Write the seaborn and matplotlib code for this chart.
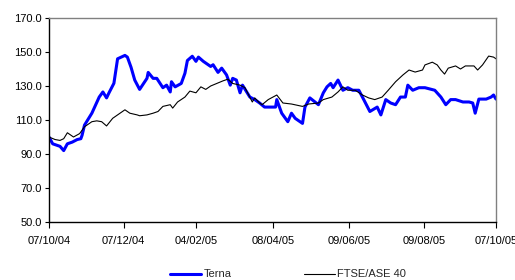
import numpy as np
import matplotlib
matplotlib.use("Agg")
import matplotlib.pyplot as plt
import matplotlib.dates as mdates
import pandas as pd
import seaborn as sns

# Terna share price, rebased to 100 on 07/10/04
terna_dates = ['2004-10-07', '2004-10-10', '2004-10-14', '2004-10-16', '2004-10-19',
               '2004-10-22', '2004-10-26', '2004-10-30', '2004-11-02', '2004-11-03',
               '2004-11-05', '2004-11-11', '2004-11-17', '2004-11-20', '2004-11-23',
               '2004-11-25', '2004-11-29', '2004-12-02', '2004-12-08', '2004-12-10',
               '2004-12-13', '2004-12-16', '2004-12-20', '2004-12-26', '2004-12-27',
               '2004-12-31', '2005-01-03', '2005-01-08', '2005-01-11', '2005-01-14',
               '2005-01-15', '2005-01-18', '2005-01-23', '2005-01-26', '2005-01-28',
               '2005-02-01', '2005-02-04', '2005-02-06', '2005-02-10', '2005-02-16',
               '2005-02-18', '2005-02-22', '2005-02-25', '2005-03-01', '2005-03-04',
               '2005-03-06', '2005-03-09', '2005-03-12', '2005-03-14', '2005-03-20',
               '2005-03-24', '2005-03-28', '2005-04-01', '2005-04-10', '2005-04-11',
               '2005-04-15', '2005-04-20', '2005-04-23', '2005-04-26', '2005-05-02',
               '2005-05-04', '2005-05-08', '2005-05-15', '2005-05-19', '2005-05-22',
               '2005-05-25', '2005-05-27', '2005-05-31', '2005-06-04', '2005-06-08',
               '2005-06-12', '2005-06-17', '2005-06-21', '2005-06-26', '2005-07-02',
               '2005-07-05', '2005-07-09', '2005-07-13', '2005-07-17', '2005-07-21',
               '2005-07-25', '2005-07-27', '2005-07-31', '2005-08-05', '2005-08-10',
               '2005-08-18', '2005-08-23', '2005-08-27', '2005-08-31', '2005-09-04',
               '2005-09-10', '2005-09-15', '2005-09-18', '2005-09-20', '2005-09-23',
               '2005-09-29', '2005-10-03', '2005-10-05', '2005-10-07']
terna_values = [100, 96, 95, 94.5, 92,
                96, 97, 98.5, 99, 101,
                107, 114, 123.5, 126.5, 123,
                126, 131.6, 146, 148, 147,
                141, 133.5, 128, 134.5, 138,
                134.5, 134.5, 129, 130.5, 126.5,
                132.5, 129.5, 131.5, 137.5, 145,
                147.5, 144.5, 147, 144.5, 141.5,
                142.5, 138, 140.5, 136.5, 130.5,
                134.5, 133.5, 126, 130.5, 123.5,
                122, 120, 117.6, 117.6, 122,
                114, 109, 114, 111, 108,
                117.6, 123, 119, 126, 129.5,
                131.5, 129, 133.5, 127.5, 129,
                127.5, 127.5, 122, 115, 117.6,
                113, 122, 120, 119, 123.5,
                123.5, 130.5, 127.5, 129, 129,
                127.5, 123.5, 119, 122, 122,
                120.6, 120.6, 120, 114, 122.3,
                122.3, 123.5, 124.7, 122.3]

# FTSE/ASE 40 index, rebased to 100 on 07/10/04
ftse_dates = ['2004-10-07', '2004-10-12', '2004-10-16', '2004-10-19', '2004-10-22',
              '2004-10-27', '2004-11-01', '2004-11-05', '2004-11-11', '2004-11-15',
              '2004-11-19', '2004-11-23', '2004-11-28', '2004-12-02', '2004-12-08',
              '2004-12-12', '2004-12-18', '2004-12-20', '2004-12-26', '2004-12-31',
              '2005-01-04', '2005-01-08', '2005-01-14', '2005-01-16', '2005-01-20',
              '2005-01-26', '2005-01-30', '2005-02-04', '2005-02-08', '2005-02-12',
              '2005-02-16', '2005-02-21', '2005-02-26', '2005-03-02', '2005-03-06',
              '2005-03-12', '2005-03-16', '2005-03-22', '2005-03-24', '2005-03-28',
              '2005-03-30', '2005-04-04', '2005-04-11', '2005-04-16', '2005-04-23',
              '2005-05-02', '2005-05-07', '2005-05-15', '2005-05-19', '2005-05-26',
              '2005-05-31', '2005-06-04', '2005-06-08', '2005-06-14', '2005-06-20',
              '2005-06-25', '2005-06-30', '2005-07-06', '2005-07-11', '2005-07-17',
              '2005-07-23', '2005-07-28', '2005-08-02', '2005-08-08', '2005-08-10',
              '2005-08-16', '2005-08-20', '2005-08-23', '2005-08-26', '2005-08-29',
              '2005-09-04', '2005-09-08', '2005-09-12', '2005-09-19', '2005-09-22',
              '2005-09-26', '2005-10-01', '2005-10-05', '2005-10-07']
ftse_values = [100, 98.5, 98, 99, 102.5,
               100, 102, 106, 109, 109.5,
               109, 106.5, 111, 113, 116,
               114, 113, 112.5, 113, 114,
               115, 118, 119, 117, 120.6,
               123.5, 127, 126, 129.5, 128,
               130, 131.5, 133, 134, 131.5,
               130.5, 129, 120.6, 123, 120,
               119, 122, 124.7, 120, 119.4,
               118, 119.4, 120, 122, 123.5,
               126.5, 129.5, 127.5, 127.5, 124.7,
               123, 122, 123.5, 127.5, 132.5,
               136.5, 139.4, 138.2, 139.4, 142.4,
               144, 142.4, 139.4, 137, 140.5,
               141.8, 140, 141.8, 141.8, 139.4,
               142.4, 147.6, 147, 146]

tick_dates = ['2004-10-07', '2004-12-07', '2005-02-04', '2005-04-08',
              '2005-06-09', '2005-08-09', '2005-10-07']
y_ticks = [50, 70, 90, 110, 130, 150, 170]

terna = pd.DataFrame({'date': pd.to_datetime(terna_dates), 'value': terna_values})
ftse = pd.DataFrame({'date': pd.to_datetime(ftse_dates), 'value': ftse_values})

sns.set_style('white')
plt.rcParams['font.family'] = ['Liberation Sans', 'DejaVu Sans']

fig = plt.figure(figsize=(5.15, 2.8), dpi=100)
ax = fig.add_axes([49 / 515, 1 - 222 / 280, 447 / 515, 204 / 280])

sns.lineplot(data=terna, x='date', y='value', ax=ax, color='#0000ff',
             linewidth=2.2, label='Terna')
sns.lineplot(data=ftse, x='date', y='value', ax=ax, color='black',
             linewidth=0.8, label='FTSE/ASE 40')

# axes settings
ax.set_xlim(pd.Timestamp('2004-10-07'), pd.Timestamp('2005-10-07'))
ax.set_ylim(50, 170)
ax.set_yticks(y_ticks)
ax.set_yticklabels(['{:.1f}'.format(v) for v in y_ticks], fontsize=8)
ax.set_xticks(pd.to_datetime(tick_dates))
ax.xaxis.set_major_formatter(mdates.DateFormatter('%d/%m/%y'))
ax.tick_params(axis='x', labelsize=8, length=4, width=0.8, direction='out',
               bottom=True, pad=6, colors='black')
ax.tick_params(axis='y', labelsize=8, length=3, width=0.8, direction='out',
               left=True, pad=2, colors='black')
ax.set_xlabel('')
ax.set_ylabel('')
ax.grid(False)

for side in ['left', 'bottom']:
    ax.spines[side].set_color('black')
    ax.spines[side].set_linewidth(1.0)
for side in ['top', 'right']:
    ax.spines[side].set_color('#808080')
    ax.spines[side].set_linewidth(1.0)

ax.legend(loc='center', bbox_to_anchor=(288 / 515, 0.02),
          bbox_transform=fig.transFigure, ncol=2, frameon=False,
          fontsize=8, handlelength=2.8, handletextpad=0.2,
          columnspacing=6.5)

plt.savefig('out.png', dpi=100)
plt.close()
